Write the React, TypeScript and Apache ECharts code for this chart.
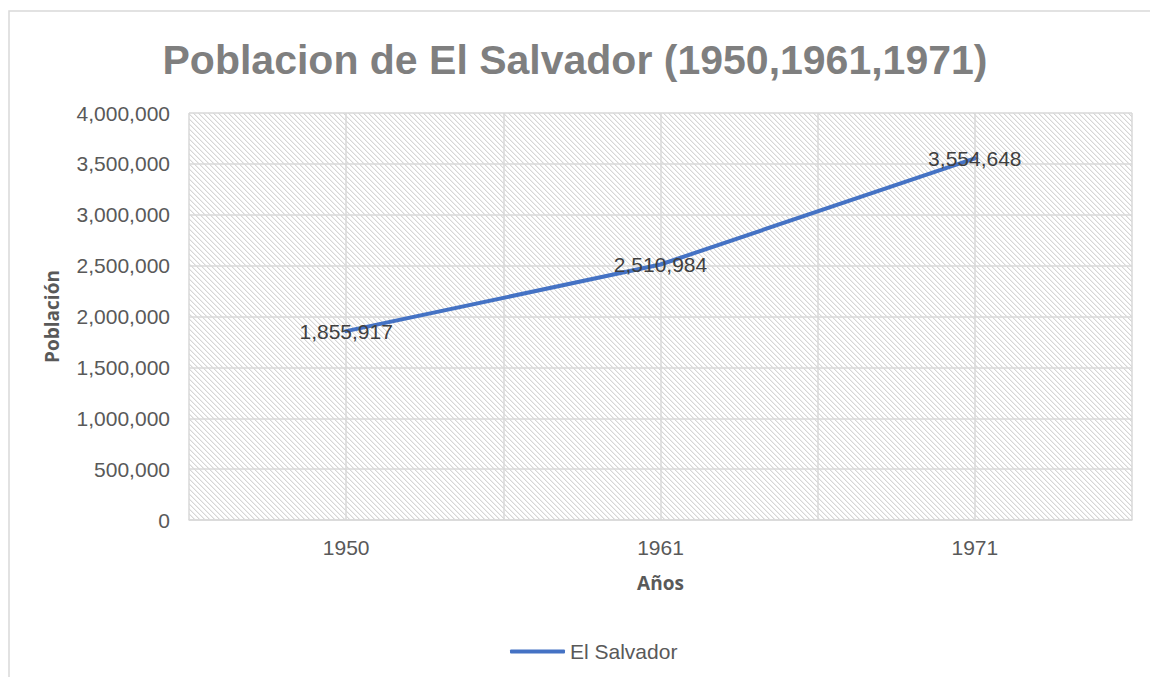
import React, { useEffect, useRef } from "react";
import * as echarts from "echarts";

const titleText = "Poblacion de El Salvador (1950,1961,1971)";
const seriesName = "El Salvador";
const years = ["1950", "1961", "1971"];
const population = [1855917, 2510984, 3554648];
const yAxisTitle = "Población";
const xAxisTitle = "Años";

function makeHatch(): string {
  const n = 5;
  const c = document.createElement("canvas");
  c.width = n;
  c.height = n;
  const ctx = c.getContext("2d")!;
  ctx.fillStyle = "#ffffff";
  ctx.fillRect(0, 0, n, n);
  for (let i = 0; i < n; i++) {
    ctx.fillStyle = "#d6d6d6";
    ctx.fillRect(i, i, 1, 1);
    ctx.fillStyle = "#eeeeee";
    ctx.fillRect((i + 1) % n, i, 1, 1);
  }
  return c.toDataURL();
}

export default function App() {
  const ref = useRef<HTMLDivElement>(null);
  useEffect(() => {
    if (!ref.current) return;
    const chart = echarts.init(ref.current, null, { renderer: "svg" });
    const fmt = (v: number) => v.toLocaleString("en-US");
    chart.setOption({
      animation: false,
      backgroundColor: "#ffffff",
      title: {
        text: titleText,
        left: "center",
        top: 34,
        textStyle: {
          fontFamily: "Liberation Sans, Arial, sans-serif",
          fontSize: 41,
          fontWeight: "bold",
          color: "#7f7f7f",
        },
      },
      graphic: [
        {
          type: "rect",
          shape: { x: 9, y: 11, width: 1200, height: 720 },
          style: { fill: "none", stroke: "#d9d9d9", lineWidth: 1.5 },
          silent: true,
          z: -1,
        },
      ],
      grid: {
        left: 189,
        right: 18,
        top: 113,
        bottom: 157,
        show: true,
        borderWidth: 0,
        backgroundColor: { image: makeHatch(), repeat: "repeat" },
      },
      legend: {
        left: 505,
        top: 636,
        icon: "roundRect",
        itemWidth: 55,
        itemHeight: 4,
        itemGap: 10,
        itemStyle: { color: "#4472c4", opacity: 1 },
        textStyle: {
          fontFamily: "Liberation Sans, Arial, sans-serif",
          fontSize: 21,
          color: "#595959",
          padding: [0, 0, 0, 0],
        },
        data: [{ name: seriesName, itemStyle: { color: "#4472c4", opacity: 1 } }],
      },
      xAxis: [
        {
          type: "category",
          data: years,
          boundaryGap: true,
          name: xAxisTitle,
          nameLocation: "middle",
          nameGap: 53,
          nameTextStyle: {
            fontFamily: "Open Sans, sans-serif",
            fontWeight: "bold",
            fontSize: 19,
            color: "#595959",
          },
          axisLine: { show: true, lineStyle: { color: "#d9d9d9", width: 1.5 } },
          axisTick: { show: false },
          axisLabel: {
            margin: 17,
            fontFamily: "Liberation Sans, Arial, sans-serif",
            fontSize: 21,
            color: "#595959",
          },
          splitLine: { show: false },
        },
        {
          type: "value",
          min: 0,
          max: 6,
          interval: 1,
          position: "bottom",
          axisLine: { show: false },
          axisTick: { show: false },
          axisLabel: { show: false },
          splitLine: { show: true, lineStyle: { color: "#d9d9d9", width: 1.5 } },
        },
      ],
      yAxis: {
        type: "value",
        min: 0,
        max: 4000000,
        interval: 500000,
        name: yAxisTitle,
        nameLocation: "middle",
        nameGap: 128,
        nameRotate: 90,
        nameTextStyle: {
          fontFamily: "Open Sans, sans-serif",
          fontWeight: "bold",
          fontSize: 19,
          color: "#595959",
        },
        axisLine: { show: false },
        axisTick: { show: false },
        axisLabel: {
          margin: 19,
          fontFamily: "Liberation Sans, Arial, sans-serif",
          fontSize: 21,
          color: "#595959",
          formatter: (v: number) => fmt(v),
        },
        splitLine: { show: true, lineStyle: { color: "#d9d9d9", width: 1.5 } },
      },
      series: [
        {
          name: seriesName,
          type: "line",
          xAxisIndex: 0,
          data: population,
          symbol: "circle",
          symbolSize: 2,
          showSymbol: true,
          lineStyle: { color: "#4472c4", width: 4, cap: "round" },
          itemStyle: { color: "rgba(68,114,196,0)", borderWidth: 0 },
          label: {
            show: true,
            position: "inside",
            offset: [0, 2],
            fontFamily: "Liberation Sans, Arial, sans-serif",
            fontSize: 21,
            color: "#404040",
            formatter: (p: any) => fmt(p.value),
          },
          labelLayout: { hideOverlap: false },
          z: 5,
        },
      ],
    });
    return () => chart.dispose();
  }, []);
  return (
    <div
      ref={ref}
      style={{ position: "fixed", left: 0, top: 0, width: 1150, height: 677 }}
    />
  );
}
